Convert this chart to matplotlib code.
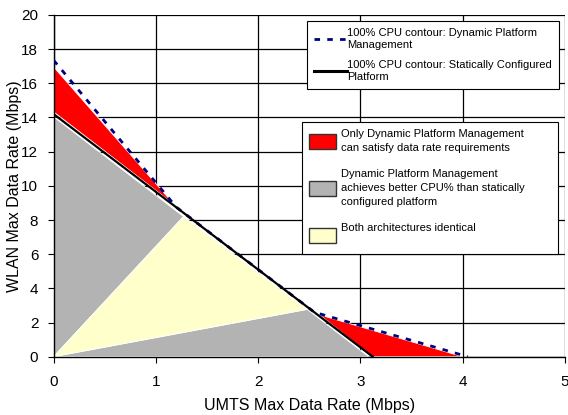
import matplotlib
matplotlib.use("Agg")
import matplotlib.pyplot as plt
from matplotlib.patches import Polygon, Patch
from matplotlib.lines import Line2D

plt.rcParams['font.family'] = ['Liberation Sans', 'DejaVu Sans']

# 100% CPU contours (UMTS Mbps, WLAN Mbps)
static_x = [0, 3.12]
static_y = [14.2, 0]
dynamic_x = [0, 1.2, 2.55, 4.05]
dynamic_y = [17.35, 8.75, 2.6, 0]

# filled regions
red_upper = [(0, 16.96), (0, 14.33), (1.18, 8.9)]
red_lower = [(2.6, 2.45), (3.12, 0), (4.0, 0)]
gray_upper = [(0, 0), (0, 14.04), (1.27, 8.2)]
gray_lower = [(0, 0), (2.48, 2.77), (3.08, 0)]
yellow_mid = [(0, 0), (1.27, 8.2), (2.48, 2.77)]

RED = '#ff0000'
GRAY = '#b3b3b3'
YELLOW = '#ffffcc'
NAVY = '#000080'

fig = plt.figure(figsize=(5.68, 4.15), dpi=100)
ax = fig.add_axes([0.0944, 0.1405, 0.9003, 0.8234])

ax.set_xlim(0, 5)
ax.set_ylim(0, 20)
ax.set_xticks(range(0, 6))
ax.set_yticks(range(0, 21, 2))
ax.grid(True, color='black', linewidth=0.9)
ax.set_axisbelow(True)

for pts, col in [(gray_upper, GRAY), (gray_lower, GRAY), (yellow_mid, YELLOW),
                 (red_upper, RED), (red_lower, RED)]:
    ax.add_patch(Polygon(pts, closed=True, facecolor=col, edgecolor='white',
                         linewidth=0.6, zorder=2))

ax.plot(dynamic_x, dynamic_y, color=NAVY, linewidth=2.0, dashes=(2, 2.6), zorder=3)
ax.plot(static_x, static_y, color='black', linewidth=1.6, zorder=4)

for s in ['top', 'right']:
    ax.spines[s].set_visible(False)
ax.spines['left'].set_linewidth(1)
ax.spines['bottom'].set_linewidth(1)
ax.tick_params(direction='out', length=4, labelsize=11)
ax.tick_params(axis='x', pad=9)
ax.tick_params(axis='y', pad=7)
ax.set_xlabel('UMTS Max Data Rate (Mbps)', fontsize=11.5, labelpad=7)
ax.set_ylabel('WLAN Max Data Rate (Mbps)', fontsize=11.5)
ax.yaxis.set_label_coords(-0.062, 0.5)

h1 = [Line2D([], [], color=NAVY, linewidth=2.0, dashes=(2, 2.6)),
      Line2D([], [], color='black', linewidth=2.2)]
l1 = ['100% CPU contour: Dynamic Platform\nManagement',
      '100% CPU contour: Statically Configured\nPlatform']
leg1 = ax.legend(h1, l1, loc='upper left',
                 bbox_to_anchor=(307 / 568, 1 - 88 / 415, 252 / 568, 67 / 415),
                 bbox_transform=fig.transFigure, mode='expand', fontsize=8,
                 frameon=True, fancybox=False, edgecolor='black', framealpha=1,
                 handlelength=3.0, handletextpad=0.0, labelspacing=0.85,
                 borderpad=0.6, borderaxespad=0)
leg1.get_frame().set_linewidth(0.8)
for t in leg1.get_texts():
    t.set_linespacing(1.3)
ax.add_artist(leg1)

h2 = [Patch(facecolor=RED, edgecolor='#333333'),
      Patch(facecolor=GRAY, edgecolor='#333333'),
      Patch(facecolor=YELLOW, edgecolor='#333333')]
l2 = ['Only Dynamic Platform Management\ncan satisfy data rate requirements',
      'Dynamic Platform Management\nachieves better CPU% than statically\nconfigured platform',
      'Both architectures identical\n ']
leg2 = ax.legend(h2, l2, loc='upper left',
                 bbox_to_anchor=(302 / 568, 1 - 254 / 415, 256 / 568, 132 / 415),
                 bbox_transform=fig.transFigure, mode='expand', fontsize=8,
                 frameon=True, fancybox=False, edgecolor='black', framealpha=1,
                 handlelength=2.4, handleheight=1.8, handletextpad=0.45,
                 labelspacing=1.5, borderpad=0.65, borderaxespad=0)
leg2.get_frame().set_linewidth(0.8)
for t in leg2.get_texts():
    t.set_linespacing(1.45)

fig.savefig('out.png', dpi=100)
